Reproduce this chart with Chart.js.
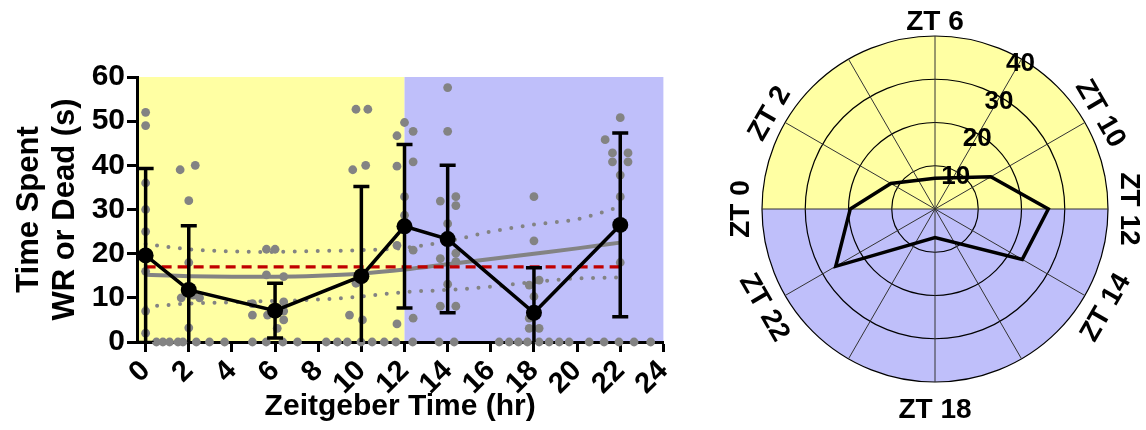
<!DOCTYPE html>
<html>
<head>
<meta charset="utf-8">
<script src="https://cdn.jsdelivr.net/npm/chart.js@4.4.1/dist/chart.umd.min.js"></script>
<style>
    html, body { margin: 0; padding: 0; background: #fff; width: 1146px; height: 430px; overflow: hidden; }
    #wrapLeft { position: absolute; left: 0; top: 0; width: 690px; height: 430px; }
    #wrapRight { position: absolute; left: 700px; top: 0; width: 446px; height: 430px; }
</style>
</head>
<body>
<div id="wrapLeft"><canvas id="cLeft" width="690" height="430"></canvas></div>
<div id="wrapRight"><canvas id="cRight" width="446" height="430"></canvas></div>
<script>
// ===== Data =====
const ZT = [0, 2, 6, 10, 12, 14, 18, 22];
const MEAN = [19.6, 11.8, 7.1, 14.9, 26.2, 23.3, 6.6, 26.5];
const SD = [19.7, 14.5, 6.2, 20.3, 18.5, 16.7, 10.2, 20.8];

// fitted curve + confidence band (grey), grand mean (red)
const FIT_X = [0, 2, 4, 6, 8, 10, 12, 14, 16, 18, 20, 22];
const FIT_MID = [15.2, 14.9, 14.8, 14.8, 15.0, 15.5, 16.4, 17.6, 18.8, 20.0, 21.2, 22.5];
const FIT_UP = [22.2, 21.0, 20.5, 20.4, 20.6, 20.8, 21.3, 22.8, 25.0, 26.6, 27.8, 30.6];
const FIT_LO = [8.0, 8.7, 9.0, 9.3, 9.6, 10.3, 11.3, 11.8, 12.5, 13.6, 14.4, 14.6];
const GRAND_MEAN = 17.0;
const GRAND_X = [0, 22];

// individual animals, non-zero values [ZT (jittered), seconds]
const RAW = [
    [0, 52], [0, 49], [0, 36], [0, 30], [0, 25], [0, 20], [0, 16], [0, 7], [0, 2],
    [1.6, 39], [2.3, 40], [2, 32], [2, 18], [1.65, 10], [2.2, 10.6], [2.5, 10], [2, 3.2],
    [5.6, 21], [6.0, 21], [5.6, 15.2], [6.4, 14.8], [4.95, 8.7], [6.4, 9.1], [4.95, 6.1],
    [5.65, 6.1], [6.4, 7], [6.4, 5], [6.1, 3.1],
    [9.75, 52.7], [10.3, 52.7], [9.6, 39], [10.2, 40], [9.75, 13.3], [9.45, 6.1], [10.05, 5],
    [11.65, 46.7], [12, 49.7], [12.4, 47.7], [11.65, 39.8], [12.4, 40.8], [12, 32.9], [12, 28.7],
    [11.65, 21.9], [12.4, 20.8], [11.65, 4.1], [12.4, 5.4],
    [14, 57.6], [14, 47.7], [13.66, 31.9], [14.38, 32.9], [14.38, 30.9], [14, 26.8], [13.66, 18.9],
    [14.38, 20.1], [14.38, 18.2], [14, 13.1], [13.66, 8.1], [14.38, 8.1],
    [18, 32.9], [18, 22.9], [17.78, 12.9], [18.24, 14], [18, 10.3], [17.78, 5.4], [17.78, 3.1], [18.24, 3.1],
    [22, 50.8], [21.3, 45.8], [21.64, 42.8], [22.36, 42.8], [21.64, 40.8], [22.36, 40.8], [22, 37.8],
    [22, 32.9], [22, 18]
];
// animals at zero, jittered along the axis
const RAW_ZERO_X = [0.5, 0.8, 1.11, 1.5, 1.73, 2.35, 2.96, 3.66, 4.95, 5.59, 6.36, 7.04, 8.37, 8.89,
    9.35, 9.98, 10.5, 11.06, 11.6, 12.38, 13.6, 14.3, 16.39, 16.85, 17.28, 17.7, 18.24, 18.7,
    19.17, 19.63, 20.56, 21.25, 21.94, 22.64, 23.41];

const X_TICKS = [0, 2, 4, 6, 8, 10, 12, 14, 16, 18, 20, 22, 24];
const Y_TICKS = [0, 10, 20, 30, 40, 50, 60];
const LIGHTS_OFF = 12;

const POLAR_HOURS = [0, 2, 4, 6, 8, 10, 12, 14, 16, 18, 20, 22];
const POLAR_LABELS = ['ZT 0', 'ZT 2', '', 'ZT 6', '', 'ZT 10', 'ZT 12', 'ZT 14', '', 'ZT 18', '', 'ZT 22'];
const POLAR_TICKS = [10, 20, 30, 40];

// ===== Styles =====
const FONT = "'Liberation Sans', Arial, Helvetica, sans-serif";
const YELLOW = '#ffffa3';
const BLUE = '#bfbffa';
const GREY = '#838383';
const RED = '#c00000';
const bold = (size, lineHeight = 1.2) => ({ family: FONT, size, weight: 'bold', lineHeight });
const pts = (xs, ys) => xs.map((x, i) => ({ x, y: ys[i] }));

// ===== Left: time course =====
const lightDark = {
    id: 'lightDark',
    beforeDraw(chart) {
        const { ctx, chartArea: a, scales: { x } } = chart;
        const mid = x.getPixelForValue(LIGHTS_OFF);
        ctx.save();
        ctx.fillStyle = YELLOW;
        ctx.fillRect(a.left, a.top, mid - a.left, a.bottom - a.top);
        ctx.fillStyle = BLUE;
        ctx.fillRect(mid, a.top, a.right - mid, a.bottom - a.top);
        ctx.restore();
    }
};

const errorBars = {
    id: 'errorBars',
    beforeDatasetDraw(chart, args) {
        if (args.index !== 0) return;
        const { ctx, chartArea: a, scales: { x, y } } = chart;
        ctx.save();
        ctx.beginPath();
        ctx.rect(a.left, a.top - 20, a.right - a.left, a.bottom - a.top + 20);
        ctx.clip();
        ctx.strokeStyle = '#000';
        ctx.lineWidth = 3.5;
        ZT.forEach((t, i) => {
            const px = x.getPixelForValue(t);
            const hi = y.getPixelForValue(MEAN[i] + SD[i]);
            const lo = y.getPixelForValue(MEAN[i] - SD[i]);
            ctx.beginPath();
            ctx.moveTo(px, hi); ctx.lineTo(px, lo);
            ctx.moveTo(px - 8, hi); ctx.lineTo(px + 8, hi);
            ctx.moveTo(px - 8, lo); ctx.lineTo(px + 8, lo);
            ctx.stroke();
        });
        ctx.restore();
    }
};

const axisStyle = {
    grid: { drawOnChartArea: false, drawTicks: true, tickLength: 10, tickWidth: 3, tickColor: '#000' },
    border: { color: '#000', width: 3 }
};

new Chart(document.getElementById('cLeft').getContext('2d'), {
    type: 'line',
    data: {
        datasets: [
            {
                data: pts(ZT, MEAN), borderColor: '#000', borderWidth: 3.5,
                pointRadius: 8, pointBackgroundColor: '#000', pointBorderWidth: 0, order: 0
            },
            {
                data: pts(GRAND_X, GRAND_X.map(() => GRAND_MEAN)), borderColor: RED, borderWidth: 3.3,
                borderDash: [10, 6], pointRadius: 0, order: 1
            },
            {
                data: pts(FIT_X, FIT_MID), borderColor: GREY, borderWidth: 4,
                pointRadius: 0, cubicInterpolationMode: 'monotone', order: 2
            },
            {
                data: pts(FIT_X, FIT_UP), borderColor: GREY, borderWidth: 4, borderDash: [0, 11.5],
                borderCapStyle: 'round', pointRadius: 0, cubicInterpolationMode: 'monotone', order: 3
            },
            {
                data: pts(FIT_X, FIT_LO), borderColor: GREY, borderWidth: 4, borderDash: [0, 11.5],
                borderCapStyle: 'round', pointRadius: 0, cubicInterpolationMode: 'monotone', order: 4
            },
            {
                type: 'scatter',
                data: RAW.map(([x, y]) => ({ x, y })).concat(RAW_ZERO_X.map(x => ({ x, y: 0 }))),
                pointRadius: 4.4, backgroundColor: GREY, pointBorderWidth: 0, showLine: false,
                clip: false, order: 5
            }
        ]
    },
    options: {
        responsive: false, animation: false, events: [],
        layout: { padding: { left: 0, top: 77, right: 25, bottom: 0 } },
        plugins: { legend: { display: false }, tooltip: { enabled: false } },
        scales: {
            x: {
                type: 'linear', min: -0.4, max: 24,
                afterBuildTicks: s => { s.ticks = X_TICKS.map(value => ({ value })); },
                afterFit: s => { s.height = 88; },
                ticks: { font: bold(29), color: '#000', minRotation: 45, maxRotation: 45, padding: 2, autoSkip: false },
                ...axisStyle,
                title: { display: true, text: 'Zeitgeber Time (hr)', font: bold(30), color: '#000', padding: { top: 0, bottom: 5 } }
            },
            y: {
                min: 0, max: 60,
                afterBuildTicks: s => { s.ticks = Y_TICKS.map(value => ({ value })); },
                afterFit: s => { s.width = 137; },
                ticks: { font: bold(30), color: '#000', padding: 2 },
                ...axisStyle,
                title: {
                    display: true, text: ['Time Spent', 'WR or Dead (s)'], font: bold(31, 1.15), color: '#000',
                    padding: { top: 12, bottom: 0 }
                }
            }
        }
    },
    plugins: [lightDark, errorBars]
});

// ===== Right: polar plot of the means =====
const polarHalves = {
    id: 'polarHalves',
    beforeDraw(chart) {
        const { ctx } = chart;
        const s = chart.scales.r;
        ctx.save();
        ctx.fillStyle = YELLOW;
        ctx.beginPath();
        ctx.moveTo(s.xCenter, s.yCenter);
        ctx.arc(s.xCenter, s.yCenter, s.drawingArea, Math.PI, 2 * Math.PI);
        ctx.fill();
        ctx.fillStyle = BLUE;
        ctx.beginPath();
        ctx.moveTo(s.xCenter, s.yCenter);
        ctx.arc(s.xCenter, s.yCenter, s.drawingArea, 0, Math.PI);
        ctx.fill();
        ctx.restore();
    }
};

const polarText = {
    id: 'polarText',
    afterDraw(chart) {
        const { ctx } = chart;
        const s = chart.scales.r;
        ctx.save();
        ctx.fillStyle = '#000';
        ctx.textAlign = 'center';
        ctx.textBaseline = 'middle';

        // radial tick labels, upright, along the ZT 8 spoke
        ctx.font = 'bold 26px ' + FONT;
        POLAR_TICKS.forEach(v => {
            const p = s.getPointPosition(4, s.getDistanceFromCenterForValue(v));
            ctx.fillText(String(v), p.x - 1, p.y + 5);
        });

        // spoke labels, written along the circle
        ctx.font = 'bold 28px ' + FONT;
        POLAR_LABELS.forEach((label, i) => {
            if (!label) return;
            const ang = s.getIndexAngle(i);
            const down = Math.sin(ang - Math.PI / 2);
            const p = s.getPointPosition(i, s.drawingArea + 21 + 7 * down);
            ctx.save();
            ctx.translate(p.x, p.y);
            ctx.rotate(down > 0.01 ? ang + Math.PI : ang);
            ctx.fillText(label, 0, 0);
            ctx.restore();
        });
        ctx.restore();
    }
};

new Chart(document.getElementById('cRight').getContext('2d'), {
    type: 'radar',
    data: {
        labels: POLAR_LABELS,
        datasets: [{
            data: POLAR_HOURS.map(h => { const i = ZT.indexOf(h); return i < 0 ? null : MEAN[i]; }),
            borderColor: '#000', borderWidth: 3.5, fill: false, pointRadius: 0, spanGaps: true, tension: 0
        }]
    },
    options: {
        responsive: false, animation: false, events: [],
        layout: { padding: { left: 62, top: 36, right: 38, bottom: 48 } },
        plugins: { legend: { display: false }, tooltip: { enabled: false } },
        scales: {
            r: {
                min: 0, max: 40, startAngle: -90,
                ticks: { display: false, stepSize: 10 },
                pointLabels: { display: false },
                grid: { circular: true, color: '#000', lineWidth: 1.2 },
                angleLines: { color: '#333', lineWidth: 1 }
            }
        }
    },
    plugins: [polarHalves, polarText]
});
</script>
</body>
</html>
